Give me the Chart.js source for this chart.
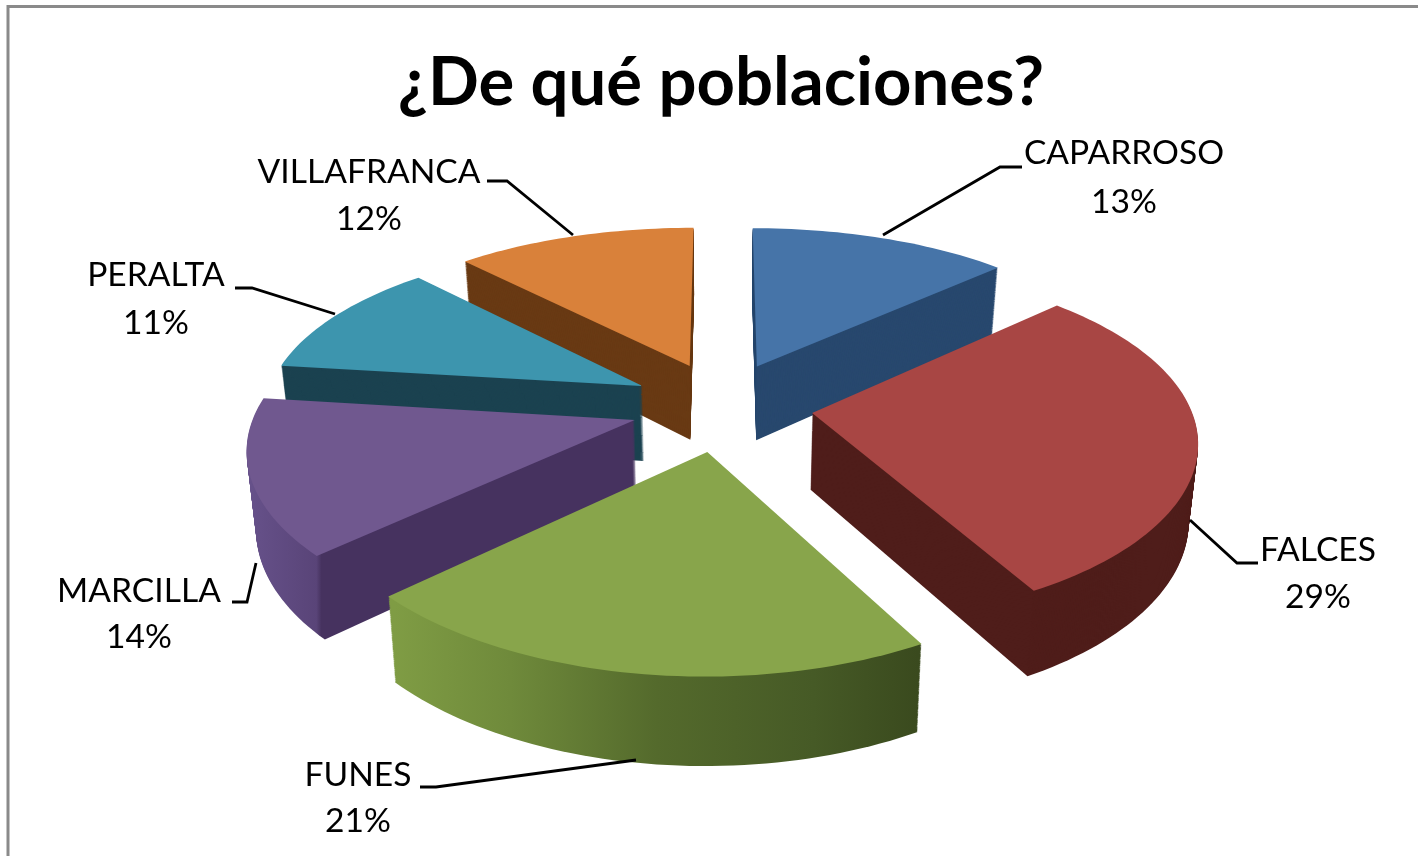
<!DOCTYPE html>
<html><head><meta charset="utf-8">
<style>html,body{margin:0;padding:0;background:#fff}canvas{display:block}</style>
<script src="https://cdn.jsdelivr.net/npm/chart.js@4/dist/chart.umd.min.js"></script>
</head><body><canvas id="c" width="1418" height="856"></canvas>
<script>
const categories = ['CAPARROSO','FALCES','FUNES','MARCILLA','PERALTA','VILLAFRANCA'];
const shares = [13,29,21,14,11,12];
const chartTitle = '¿De qué poblaciones?';
const topColors = ['#4674a8','#a84644','#88a54b','#70588f','#3d95ae','#d9813a'];
const wallColors = ['#28486e','#4f1d1a','#566b2e','#46325f','#1b4250','#693a14'];
const drawOrder = [0,5,4,3,1,2];

// camera for the tilted, exploded pie
const cam = {cx:722, cy:406, fx:378, fy:172, perspX:0.14, perspY:0.16, perspZ:0.12, depth:76, narrow:0.02, explodeX:0.24, explodeY:0.26};
// label layout: [centre x, line 1 y, line 2 y, leader polyline]
const labelLayout = [
  [1124,153,202,[[1022,167],[1000,167],[883,235]]],
  [1318,550,597,[[1258,563],[1237,563],[1190,520]]],
  [358,775,821,[[420,787],[436,787],[636,760]]],
  [139,591,637,[[232,602],[247,602],[256,563]]],
  [156,275,323,[[235,288],[252,288],[335,314]]],
  [369,172,219,[[487,181],[507,181],[573,235]]]
];

function project(X,Y,t){
  return [
    cam.cx + cam.fx*X*(1-cam.narrow*t)/(1-cam.perspX*Y),
    cam.cy + cam.fy*Y/(1-cam.perspY*Y) + cam.depth*t/(1-cam.perspZ*Y)
  ];
}
function projectingContext(ctx, el, t, fill){
  let ox=0, oy=0; const stack=[];
  const mid=(el.startAngle+el.endAngle)/2, R=el.outerRadius;
  const ex=Math.cos(mid)*cam.explodeX, ey=Math.sin(mid)*cam.explodeY;
  const P=(x,y)=>project((x+ox-el.x)/R+ex,(y+oy-el.y)/R+ey,t);
  const api={
    save(){stack.push([ox,oy]);ctx.save();},
    restore(){[ox,oy]=stack.pop();ctx.restore();},
    translate(a,b){ox+=a;oy+=b;},
    moveTo(x,y){const p=P(x,y);ctx.moveTo(p[0],p[1]);},
    lineTo(x,y){const p=P(x,y);ctx.lineTo(p[0],p[1]);},
    arc(x,y,r,a0,a1){
      const n=Math.max(2,Math.ceil(Math.abs(a1-a0)*40));
      for(let i=0;i<=n;i++){
        const a=a0+(a1-a0)*i/n, p=P(x+r*Math.cos(a),y+r*Math.sin(a));
        ctx.lineTo(p[0],p[1]);
      }
    }
  };
  return new Proxy(ctx,{
    get(o,k){ if(k in api) return api[k]; const v=o[k]; return typeof v==='function'?v.bind(o):v; },
    set(o,k,v){ o[k]=(k==='fillStyle'&&fill)?fill:v; return true; }
  });
}
function wallFill(ctx,i){
  if(i===2){
    const g=ctx.createLinearGradient(395,0,918,0);
    g.addColorStop(0,'#7f9c44');g.addColorStop(.22,'#6f8a3b');g.addColorStop(.5,'#546a2c');g.addColorStop(.8,'#465a26');g.addColorStop(1,'#3a4a1e');
    return g;
  }
  if(i===3){
    const g=ctx.createLinearGradient(245,0,330,0);
    g.addColorStop(0,'#67528b');g.addColorStop(.84,'#594478');g.addColorStop(.9,'#46325f');g.addColorStop(1,'#46325f');
    return g;
  }
  return wallColors[i];
}
const pie3d={
  id:'pie3d',
  beforeDraw(chart){
    const c=chart.ctx;
    c.save();c.fillStyle='#fff';c.fillRect(0,0,1418,856);
    c.strokeStyle='#8a8a8a';c.lineWidth=3;
    c.beginPath();c.moveTo(8,856);c.lineTo(8,6.5);c.lineTo(1418,6.5);c.stroke();
    c.restore();
  },
  beforeDatasetsDraw(chart){
    const ctx=chart.ctx, arcs=chart.getDatasetMeta(0).data;
    for(const i of drawOrder){
      const el=arcs[i], w=wallFill(ctx,i);
      for(let d=cam.depth;d>=1;d--) el.draw(projectingContext(ctx,el,d/cam.depth,w));
      el.draw(projectingContext(ctx,el,0,null));
    }
    ctx.save();
    ctx.strokeStyle='#000';ctx.lineWidth=2.8;ctx.lineJoin='miter';
    labelLayout.forEach(l=>{ctx.beginPath();l[3].forEach((p,j)=>j?ctx.lineTo(p[0],p[1]):ctx.moveTo(p[0],p[1]));ctx.stroke();});
    ctx.fillStyle='#000';ctx.font='33.6px Lato';ctx.textAlign='center';ctx.textBaseline='middle';
    labelLayout.forEach((l,i)=>{ctx.fillText(categories[i],l[0],l[1]);ctx.fillText(shares[i]+'%',l[0],l[2]);});
    ctx.restore();
    return false;
  }
};
new Chart(document.getElementById('c'),{
  type:'pie',
  data:{labels:categories,datasets:[{data:shares,backgroundColor:topColors,borderWidth:0,radius:200}]},
  options:{
    responsive:false,animation:false,
    layout:{padding:{left:24}},
    plugins:{
      legend:{display:false},tooltip:{enabled:false},
      title:{display:true,text:chartTitle,color:'#000',font:{family:'Lato',weight:'bold',size:67},padding:{top:43,bottom:10}}
    }
  },
  plugins:[pie3d]
});
</script></body></html>
